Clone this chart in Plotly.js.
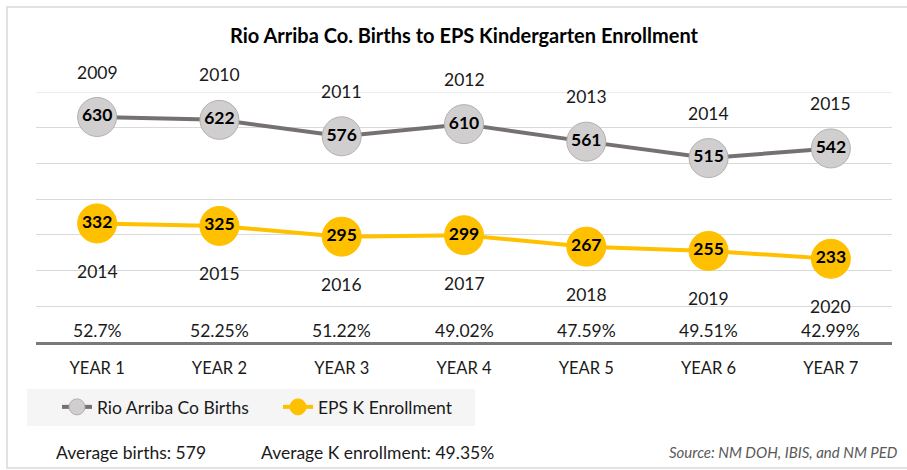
<!DOCTYPE html>
<html>
<head>
<meta charset="utf-8">
<script src="https://cdn.plot.ly/plotly-3.0.1.min.js"></script>
<style>
  html, body { margin: 0; padding: 0; background: #fff; }
  #chart { width: 907px; height: 470px; }
</style>
</head>
<body>
<div id="chart"></div>
<script>
const categories = ["YEAR 1", "YEAR 2", "YEAR 3", "YEAR 4", "YEAR 5", "YEAR 6", "YEAR 7"];
const births = [630, 622, 576, 610, 561, 515, 542];
const enrollment = [332, 325, 295, 299, 267, 255, 233];
const birthYears = ["2009", "2010", "2011", "2012", "2013", "2014", "2015"];
const enrollYears = ["2014", "2015", "2016", "2017", "2018", "2019", "2020"];
const ratios = ["52.7%", "52.25%", "51.22%", "49.02%", "47.59%", "49.51%", "42.99%"];
const footerLeft = "Average births: 579";
const footerMid = "Average K enrollment: 49.35%";
const footerSource = "Source: NM DOH, IBIS, and NM PED";
const chartTitle = "Rio Arriba Co. Births to EPS Kindergarten Enrollment";

const W = 907, H = 470;
const M = { l: 36, r: 15, t: 92, b: 128 };
const PW = W - M.l - M.r, PH = H - M.t - M.b;
const px2x = p => (p - M.l) / PW;
const py2y = p => (H - M.b - p) / PH;

const FONT = "Lato, 'Noto Sans', sans-serif";
const TXT = "#1a1a1a";

const traces = [
  {
    name: "Rio Arriba Co Births",
    x: categories, y: births,
    type: "scatter", mode: "lines+markers+text",
    text: births.map(String), textposition: "middle center",
    textfont: { family: FONT, size: 17.5, color: "#000", weight: "bold" },
    line: { color: "#767171", width: 4 },
    marker: { size: 39, color: "#d0cece", line: { color: "#b4b0b0", width: 1 } },
    cliponaxis: false
  },
  {
    name: "EPS K Enrollment",
    x: categories, y: enrollment,
    type: "scatter", mode: "lines+markers+text",
    text: enrollment.map(String), textposition: "middle center",
    textfont: { family: FONT, size: 17.5, color: "#000", weight: "bold" },
    line: { color: "#ffc000", width: 4 },
    marker: { size: 39, color: "#ffc000", line: { color: "#ffc000", width: 1 } },
    cliponaxis: false
  }
];

const annotations = [];
categories.forEach((c, i) => {
  annotations.push({ x: c, y: births[i], yshift: 45, text: birthYears[i], showarrow: false,
    font: { family: FONT, size: 17.5, color: TXT } });
  annotations.push({ x: c, y: enrollment[i], yshift: -48, text: enrollYears[i], showarrow: false,
    font: { family: FONT, size: 17.5, color: TXT } });
  annotations.push({ x: c, y: 0, yshift: 12, text: ratios[i], showarrow: false,
    font: { family: FONT, size: 17.5, color: TXT } });
});
annotations.push({ xref: "paper", yref: "paper", x: px2x(54), y: py2y(452), xanchor: "left", yanchor: "middle",
  text: footerLeft, showarrow: false, font: { family: FONT, size: 17.5, color: TXT } });
annotations.push({ xref: "paper", yref: "paper", x: px2x(259), y: py2y(452), xanchor: "left", yanchor: "middle",
  text: footerMid, showarrow: false, font: { family: FONT, size: 17.5, color: TXT } });
annotations.push({ xref: "paper", yref: "paper", x: px2x(900), y: py2y(452), xanchor: "right", yanchor: "middle",
  text: "<i>" + footerSource + "</i>", showarrow: false, font: { family: FONT, size: 15, color: "#595959" } });

const layout = {
  width: W, height: H,
  margin: M,
  paper_bgcolor: "#ffffff", plot_bgcolor: "#ffffff",
  font: { family: FONT, size: 16, color: TXT },
  title: { text: "<b>" + chartTitle + "</b>", x: 0.5, xref: "paper", xanchor: "center",
    y: 1 - 36 / H, yref: "container", yanchor: "middle",
    font: { family: FONT, size: 20, color: "#000" } },
  showlegend: true,
  legend: { orientation: "h", x: px2x(57), y: py2y(407), xanchor: "left", yanchor: "middle",
    bgcolor: "rgba(0,0,0,0)", font: { family: FONT, size: 17.5, color: TXT },
    entrywidth: 176, entrywidthmode: "pixels", itemclick: false },
  xaxis: { type: "category", range: [-0.5, 6.5], showgrid: false, zeroline: false,
    showline: true, linecolor: "#7a7a7a", linewidth: 3,
    ticks: "", ticklabelstandoff: 9, tickfont: { family: FONT, size: 16.5, color: TXT } },
  yaxis: { range: [0, 700], dtick: 100, showgrid: true, gridcolor: "#d9d9d9", gridwidth: 1,
    zeroline: false, showticklabels: false, ticks: "", showline: false, fixedrange: true },
  annotations: annotations,
  shapes: [
    { type: "rect", xref: "paper", yref: "paper", x0: px2x(7), x1: px2x(909), y0: py2y(468), y1: py2y(7),
      line: { color: "#d9d9d9", width: 1.5 }, fillcolor: "rgba(0,0,0,0)", layer: "below" },
    { type: "rect", xref: "paper", yref: "paper", x0: px2x(27), x1: px2x(475), y0: py2y(426), y1: py2y(389),
      line: { width: 0 }, fillcolor: "#f5f5f5", layer: "below" },
    { type: "line", xref: "paper", yref: "y", x0: 0, x1: 1, y0: 700, y1: 700,
      line: { color: "#d9d9d9", width: 1 }, layer: "below" }
  ]
};

Plotly.newPlot("chart", traces, layout, { displayModeBar: false, staticPlot: true });
</script>
</body>
</html>
